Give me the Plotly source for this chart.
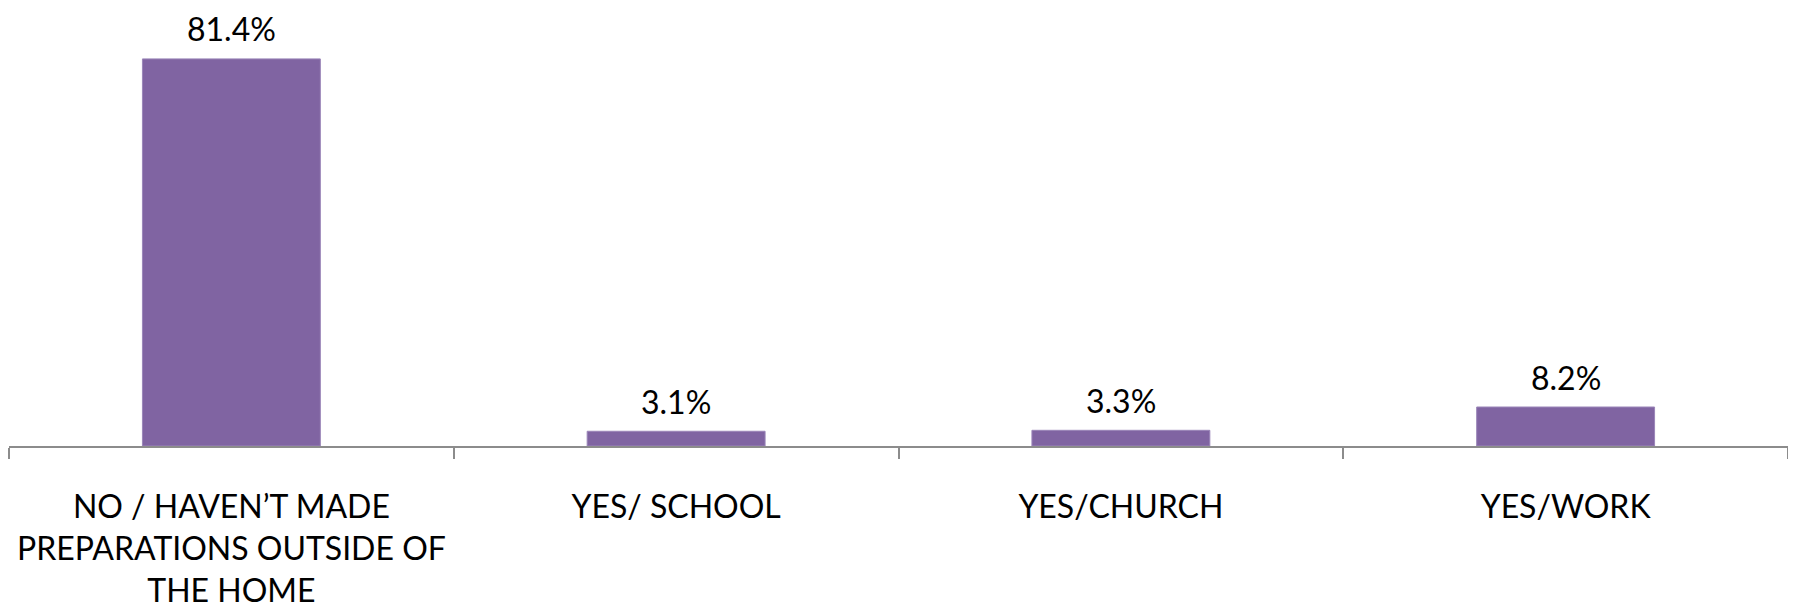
import plotly.graph_objects as go

categories = ["NO / HAVEN’T MADE<br>PREPARATIONS OUTSIDE OF<br>THE HOME", "YES/ SCHOOL", "YES/CHURCH", "YES/WORK"]
values = [81.4, 3.1, 3.3, 8.2]
value_labels = ["81.4%", "3.1%", "3.3%", "8.2%"]

FONT = "Lato"

fig = go.Figure()
fig.add_trace(go.Bar(
    x=categories,
    y=values,
    marker=dict(color="#8064A2", line=dict(color="#9a85b8", width=1)),
    width=0.4,
    hoverinfo="skip",
))

for c, v, t in zip(categories, values, value_labels):
    fig.add_annotation(x=c, y=v, text=t, showarrow=False, yanchor="middle", yshift=30,
                       borderpad=0,
                       font=dict(family=FONT, size=32, color="#000000"))

fig.update_layout(
    width=1788, height=603,
    margin=dict(l=1, r=8, t=10, b=164.5, autoexpand=False),
    paper_bgcolor="white", plot_bgcolor="white",
    showlegend=False,
    bargap=0.6,
    font=dict(family=FONT, size=32, color="#000000"),
)
fig.update_xaxes(
    type="category",
    showline=True, linecolor="#8c8c8c", linewidth=2,
    ticks="outside", tickson="boundaries", ticklen=11, tickcolor="#8c8c8c", tickwidth=2,
    showgrid=False, zeroline=False,
    tickfont=dict(family=FONT, size=32, color="#000000"),
    ticklabelstandoff=32,
    automargin=False,
)
fig.update_yaxes(range=[0, 90], visible=False, showgrid=False, zeroline=False)

fig.write_html("out.html")
